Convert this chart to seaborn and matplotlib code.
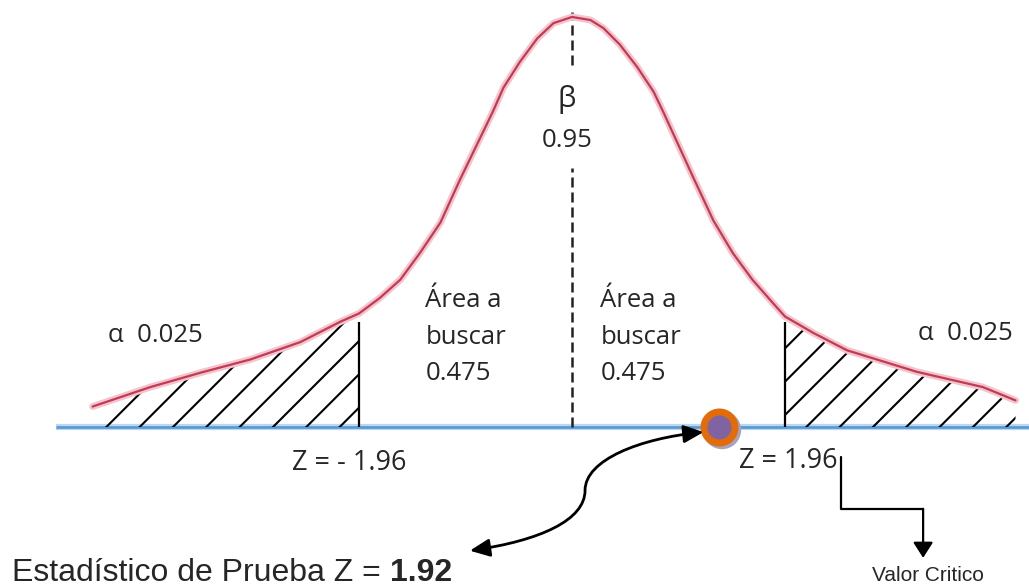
import matplotlib
matplotlib.use("Agg")
import matplotlib.pyplot as plt
from matplotlib.patches import FancyArrowPatch
from matplotlib.path import Path
import seaborn as sns

# curva (z, altura)
z_vals = [-4.41, -3.88, -3.42, -2.96, -2.50, -2.13, -1.96, -1.77, -1.58, -1.40,
          -1.21, -1.03, -0.73, -0.63, -0.48, -0.32, -0.17, 0.0, 0.17,
          0.29, 0.44, 0.60, 0.75, 0.84, 1.12, 1.30, 1.48, 1.66,
          1.85, 1.96, 2.22, 2.53, 3.17, 3.78, 4.08]
density = [0.020, 0.039, 0.053, 0.066, 0.083, 0.103, 0.111, 0.126, 0.144, 0.170,
           0.200, 0.242, 0.308, 0.332, 0.357, 0.380, 0.395, 0.401, 0.398,
           0.390, 0.374, 0.352, 0.328, 0.308, 0.243, 0.202, 0.170, 0.144,
           0.121, 0.108, 0.092, 0.075, 0.054, 0.039, 0.026]

z_crit = [-1.96, 1.96]
h_crit = [0.103, 0.103]
z_stat_pos = [1.35]   # posicion del punto en el dibujo
alpha_txt = "α  0.025"
beta_txt = ["β", "0.95"]
area_txt = ["Área a", "buscar", "0.475"]
crit_labels = ["Z = - 1.96", "Z = 1.96"]

sns.set_theme(style="white")
plt.rcParams['font.family'] = ['Open Sans', 'DejaVu Sans']
plt.rcParams['hatch.linewidth'] = 1.5
plt.rcParams['hatch.color'] = 'black'

fig = plt.figure(figsize=(10.29, 5.87), dpi=100)
ax = fig.add_axes([0, 0, 1, 1])
ax.set_xlim(-5.262, 4.204)
ax.set_ylim(-0.1565, 0.4176)
ax.axis('off')

# eje horizontal
ax.plot([-4.75, 4.3], [0, 0], color='#bcd8f0', lw=4.5, zorder=1, solid_capstyle='butt')
ax.plot([-4.75, 4.3], [0, 0], color='#5b9bd5', lw=2, zorder=1.1, solid_capstyle='butt')

# colas rayadas
i_left = z_vals.index(-1.96)
i_right = z_vals.index(1.96)
ax.fill_between(z_vals[:i_left + 1], 0, density[:i_left + 1], facecolor='none',
                edgecolor='black', hatch='/', lw=0, zorder=2)
ax.fill_between(z_vals[i_right:], 0, density[i_right:], facecolor='none',
                edgecolor='black', hatch='/', lw=0, zorder=2)
ax.vlines(z_crit, 0, h_crit, color='black', lw=1.6, zorder=3)

# curva
sns.lineplot(x=z_vals, y=density, ax=ax, color='#f4c4cc', lw=5, zorder=4)
sns.lineplot(x=z_vals, y=density, ax=ax, color='#c23a55', lw=1.6, zorder=5)

# linea central discontinua
ax.vlines(0, 0.354, 0.406, color='#222222', lw=1.8, linestyles=(0, (4, 2)), zorder=3)
ax.vlines(0, 0, 0.253, color='#222222', lw=1.8, linestyles=(0, (4, 2)), zorder=3)

# punto del estadistico
sns.scatterplot(x=[z_stat_pos[0] + 0.03], y=[-0.003], ax=ax, s=760, color='#a7a3bd',
                edgecolor='none', zorder=6)
sns.scatterplot(x=z_stat_pos, y=[0], ax=ax, s=500, color='#8064a2',
                edgecolor='#e36c0a', linewidth=5, zorder=7)

fs = 18.5
ax.text(-0.05, 0.320, beta_txt[0], ha='center', va='center', fontsize=21)
ax.text(-0.04, 0.280, beta_txt[1], ha='center', va='center', fontsize=fs)
for zx in [-1.35, 0.26]:
    for txt, hy in zip(area_txt, [0.124, 0.088, 0.052]):
        ax.text(zx, hy, txt, ha='left', va='center', fontsize=fs)
ax.text(-4.27, 0.089, alpha_txt, ha='left', va='center', fontsize=fs)
ax.text(3.18, 0.091, alpha_txt, ha='left', va='center', fontsize=fs)
ax.text(-2.05, -0.035, crit_labels[0], ha='center', va='center', fontsize=19.5)
ax.text(1.99, -0.033, crit_labels[1], ha='center', va='center', fontsize=19.5)

t1 = ax.text(-5.15, -0.1506, "Estadístico de Prueba Z = ", ha='left', va='baseline',
             fontsize=23, family=['Liberation Sans'])
ax.annotate("1.92", xy=(1, 0), xycoords=t1, ha='left', va='bottom',
            fontsize=23, family=['Liberation Sans'], fontweight='bold')
ax.text(3.27, -0.145, "Valor Critico", ha='center', va='center', fontsize=15,
        family=['Liberation Sans'])

# flecha curva doble
verts = [(-0.94, -0.121), (-0.29, -0.111), (0.12, -0.091), (0.12, -0.062),
         (0.12, -0.032), (0.63, -0.011), (1.21, -0.005)]
codes = [Path.MOVETO, Path.CURVE4, Path.CURVE4, Path.CURVE4,
         Path.CURVE4, Path.CURVE4, Path.CURVE4]
arr = FancyArrowPatch(path=Path(verts, codes), arrowstyle='<|-|>,head_length=0.6,head_width=0.27',
                      mutation_scale=20, color='black', lw=2, zorder=8)
ax.add_patch(arr)

# flecha en codo al valor critico
ax.plot([2.47, 2.47, 3.23], [-0.029, -0.080, -0.080], color='black', lw=1.6, zorder=8)
ax.annotate('', xy=(3.23, -0.128), xytext=(3.23, -0.080),
            arrowprops=dict(arrowstyle='-|>,head_length=0.47,head_width=0.3',
                            mutation_scale=20, color='black', lw=1.6, shrinkA=0, shrinkB=0))

fig.savefig('out.png', dpi=100)
